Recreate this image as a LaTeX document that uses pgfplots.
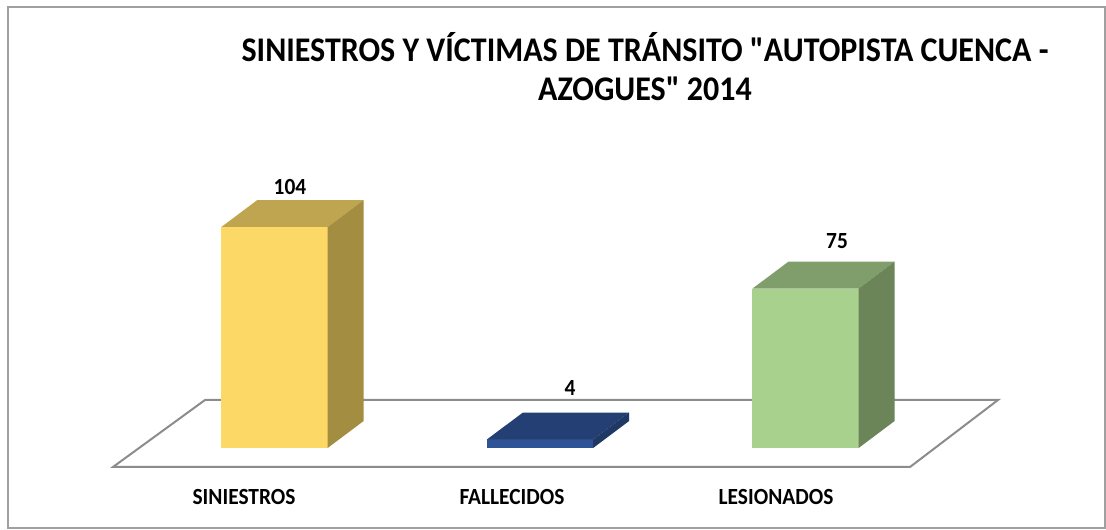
\documentclass[border=0pt]{standalone}
\usepackage{fontspec}
\setmainfont{Carlito}[Ligatures=TeXOff]
\usepackage{pgfplots}
\pgfplotsset{compat=1.18}

\definecolor{floorln}{HTML}{8C8C8C}
\definecolor{frameln}{HTML}{A0A0A0}
\definecolor{yelF}{HTML}{FCD866}
\definecolor{yelT}{HTML}{C0A550}
\definecolor{yelS}{HTML}{A38D41}
\definecolor{bluF}{HTML}{2E5496}
\definecolor{bluT}{HTML}{243F73}
\definecolor{bluS}{HTML}{1F3864}
\definecolor{grnF}{HTML}{A9D18E}
\definecolor{grnT}{HTML}{809E6C}
\definecolor{grnS}{HTML}{6B8558}

\begin{document}
\begin{tikzpicture}
\begin{axis}[
  scale only axis,
  width=553pt,height=264.5pt,
  xmin=-1.0339,xmax=3.1318,
  ymin=-38.12,ymax=210.82,
  hide axis,clip=false,
]
% frame
\draw[frameln,line width=1pt] (rel axis cs:0.0072,0.0019) rectangle (rel axis cs:0.9991,0.9868);

% floor
\addplot[fill=white,draw=floorln,line width=1pt] coordinates
  {(-0.6083,-8.94) (2.3936,-8.94) (2.7250,22.59) (-0.2618,22.59)} -- cycle;

% SINIESTROS = 104
\addplot[fill=yelF,draw=none] coordinates {(-0.2,0) (0.2,0) (0.2,104) (-0.2,104)} -- cycle;
\addplot[fill=yelT,draw=none] coordinates {(-0.2,104) (0.2,104) (0.3356,116.7) (-0.0644,116.7)} -- cycle;
\addplot[fill=yelS,draw=none] coordinates {(0.2,0) (0.3356,12.7) (0.3356,116.7) (0.2,104)} -- cycle;

% FALLECIDOS = 4
\addplot[fill=bluF,draw=none] coordinates {(0.8,0) (1.2,0) (1.2,4) (0.8,4)} -- cycle;
\addplot[fill=bluT,draw=none] coordinates {(0.8,4) (1.2,4) (1.3356,16.7) (0.9356,16.7)} -- cycle;
\addplot[fill=bluS,draw=none] coordinates {(1.2,0) (1.3356,12.7) (1.3356,16.7) (1.2,4)} -- cycle;

% LESIONADOS = 75
\addplot[fill=grnF,draw=none] coordinates {(1.8,0) (2.2,0) (2.2,75) (1.8,75)} -- cycle;
\addplot[fill=grnT,draw=none] coordinates {(1.8,75) (2.2,75) (2.3356,87.7) (1.9356,87.7)} -- cycle;
\addplot[fill=grnS,draw=none] coordinates {(2.2,0) (2.3356,12.7) (2.3356,87.7) (2.2,75)} -- cycle;

% value labels
\addplot[draw=none,mark=none,nodes near coords,point meta=explicit symbolic,
  every node near coord/.append style={anchor=center,yscale=1.08,transform shape,
    font=\fontsize{10.7}{12}\selectfont\bfseries,text=black}]
  coordinates {(0.0584,122.8) [104] (1.113,28.2) [4] (2.1186,97.4) [75]};

% category labels
\tikzset{catlbl/.style={font=\fontsize{10.7}{12}\selectfont\bfseries,yscale=1.08,transform shape}}
\node[catlbl] at (axis cs:-0.1149,-23.06) {SINIESTROS};
\node[catlbl] at (axis cs:0.8945,-23.06) {FALLECIDOS};
\node[catlbl] at (axis cs:1.889,-23.06) {LESIONADOS};

% title
\node[font=\fontsize{16}{18}\selectfont\bfseries,align=center,yscale=1.08,transform shape]
  at (rel axis cs:0.5832,0.8743)
  {SINIESTROS Y VÍCTIMAS DE TRÁNSITO "AUTOPISTA CUENCA -\\AZOGUES" 2014};
\end{axis}
\pgfresetboundingbox
\useasboundingbox (0,0) rectangle (553pt,264.5pt);
\end{tikzpicture}
\end{document}
